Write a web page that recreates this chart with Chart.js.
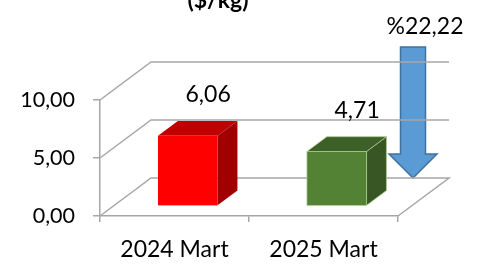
<!DOCTYPE html>
<html>
<head>
<meta charset="utf-8">
<script src="https://cdn.jsdelivr.net/npm/chart.js@4"></script>
<style>
  html, body { margin: 0; padding: 0; background: #fff; overflow: hidden; }
  #chart { display: block; }
</style>
</head>
<body>
<canvas id="chart" width="484" height="268"></canvas>
<script>
// Chart data
const categories = ['2024 Mart', '2025 Mart'];
const prices = [6.06, 4.71];
const changeText = '%22,22';
const titleText = '($/kg)';
const yMin = 0;
const yMax = 10;
const yStep = 5;

// face colours per bar: front, top, side
const barColors = [
    { front: '#ff0000', top: '#c00000', side: '#a00000', edge: null },
    { front: '#548235', top: '#3d5f28', side: '#375623', edge: '#a9c98f' }
];

const gridColor = '#a6a6a6';
const depth = { x: 51, y: -38 };   // wall depth in pixels
const frontAt = 0.26;              // where the bar front sits in depth
const barDepth = 0.39;             // how deep the boxes are
const labelFont = '23px Lato';

function fmt(v) {
    return v.toFixed(2).replace('.', ',');
}

const fakeThree = {
    id: 'fakeThree',
    beforeDatasetsDraw(chart) {
        const ctx = chart.ctx;
        const area = chart.chartArea;
        const yScale = chart.scales.y;

        // arrow showing the drop (drawn first, walls go over it)
        const ax = area.right + 15;
        const aTop = yScale.getPixelForValue(11.3) + depth.y;
        const aTip = yScale.getPixelForValue(0) + depth.y;
        const headTop = aTip - 24;
        ctx.save();
        ctx.beginPath();
        ctx.moveTo(ax - 12.5, aTop);
        ctx.lineTo(ax + 12.5, aTop);
        ctx.lineTo(ax + 12.5, headTop);
        ctx.lineTo(ax + 24, headTop);
        ctx.lineTo(ax, aTip);
        ctx.lineTo(ax - 24, headTop);
        ctx.lineTo(ax - 12.5, headTop);
        ctx.closePath();
        ctx.fillStyle = '#5b9bd5';
        ctx.fill();
        ctx.lineWidth = 1.5;
        ctx.strokeStyle = '#41719c';
        ctx.stroke();

        // side wall + back wall grid lines
        ctx.lineWidth = 1.5;
        ctx.strokeStyle = gridColor;
        for (let v = yMin; v <= yMax; v += yStep) {
            const y = yScale.getPixelForValue(v);
            ctx.beginPath();
            ctx.moveTo(area.left, y);
            ctx.lineTo(area.left + depth.x, y + depth.y);
            ctx.lineTo(area.right + depth.x, y + depth.y);
            if (v === yMin) {
                ctx.lineTo(area.right, y);
            }
            ctx.stroke();
        }
        ctx.restore();
    },
    afterDatasetsDraw(chart) {
        const ctx = chart.ctx;
        const meta = chart.getDatasetMeta(0);
        const fx = depth.x * frontAt, fy = depth.y * frontAt;
        const dx = depth.x * barDepth, dy = depth.y * barDepth;

        ctx.save();
        meta.data.forEach((bar, i) => {
            const c = barColors[i];
            const l = bar.x - bar.width / 2 + fx;
            const r = bar.x + bar.width / 2 + fx;
            const t = bar.y + fy;
            const b = bar.base + fy;

            // side face
            ctx.beginPath();
            ctx.moveTo(r, t);
            ctx.lineTo(r + dx, t + dy);
            ctx.lineTo(r + dx, b + dy);
            ctx.lineTo(r, b);
            ctx.closePath();
            ctx.fillStyle = c.side;
            ctx.fill();
            if (c.edge) { ctx.strokeStyle = c.edge; ctx.lineWidth = 0.8; ctx.stroke(); }

            // top face
            ctx.beginPath();
            ctx.moveTo(l, t);
            ctx.lineTo(l + dx, t + dy);
            ctx.lineTo(r + dx, t + dy);
            ctx.lineTo(r, t);
            ctx.closePath();
            ctx.fillStyle = c.top;
            ctx.fill();
            if (c.edge) { ctx.stroke(); }

            // front face
            ctx.fillStyle = c.front;
            ctx.fillRect(l, t, r - l, b - t);
            if (c.edge) { ctx.strokeRect(l, t, r - l, b - t); }

            // value label
            ctx.fillStyle = '#000';
            ctx.font = labelFont;
            ctx.textAlign = 'center';
            ctx.textBaseline = 'middle';
            ctx.fillText(fmt(prices[i]), bar.x + fx + dx + 0.5, t + dy - 26);
        });

        // change label above the arrow
        const area = chart.chartArea;
        ctx.fillStyle = '#000';
        ctx.font = labelFont;
        ctx.textAlign = 'center';
        ctx.textBaseline = 'middle';
        ctx.fillText(changeText, area.right + 27, 27);

        // title, cut at top of picture
        ctx.font = 'bold 23px Lato';
        ctx.textBaseline = 'alphabetic';
        ctx.fillText(titleText, 218, 8);
        ctx.restore();
    }
};

const ctx = document.getElementById('chart').getContext('2d');
new Chart(ctx, {
    type: 'bar',
    data: {
        labels: categories,
        datasets: [{
            data: prices,
            backgroundColor: 'rgba(0,0,0,0)',
            borderWidth: 0,
            barPercentage: 0.4,
            categoryPercentage: 1.0
        }]
    },
    options: {
        responsive: false,
        animation: false,
        devicePixelRatio: 1,
        layout: { padding: { top: 100, right: 86, bottom: 0, left: 0 } },
        plugins: {
            legend: { display: false },
            tooltip: { enabled: false },
            title: { display: false }
        },
        scales: {
            x: {
                afterFit: s => { s.height = 52; },
                grid: {
                    offset: true,
                    drawOnChartArea: false,
                    drawTicks: true,
                    tickLength: 6,
                    color: gridColor,
                    lineWidth: 1.5
                },
                border: { display: true, color: gridColor, width: 1.5 },
                ticks: {
                    color: '#000',
                    font: { family: 'Lato', size: 23 },
                    padding: 14
                }
            },
            y: {
                min: yMin,
                max: yMax,
                afterFit: s => { s.width = 100; },
                grid: {
                    drawOnChartArea: false,
                    drawTicks: true,
                    tickLength: 7,
                    color: gridColor,
                    lineWidth: 1.5
                },
                border: { display: true, color: gridColor, width: 1.5 },
                ticks: {
                    stepSize: yStep,
                    color: '#000',
                    font: { family: 'Lato', size: 21.5 },
                    padding: 18,
                    callback: v => fmt(v)
                }
            }
        }
    },
    plugins: [fakeThree]
});
</script>
</body>
</html>
